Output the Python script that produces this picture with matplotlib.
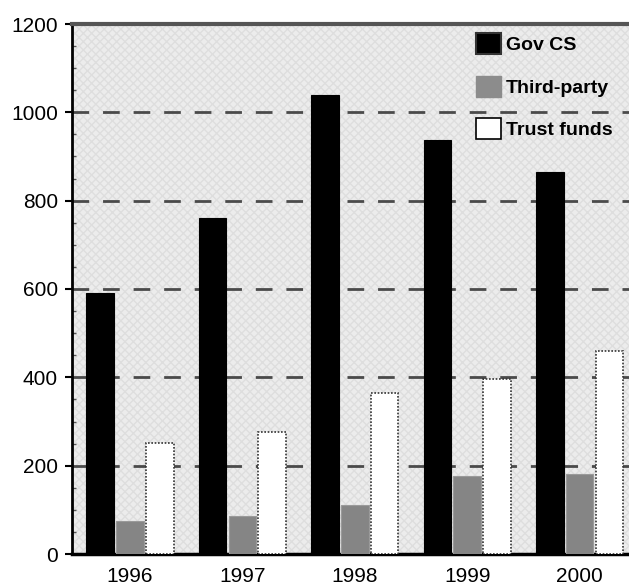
import numpy as np
import matplotlib
matplotlib.use("Agg")
import matplotlib.pyplot as plt
from matplotlib.patches import Patch
from matplotlib.ticker import MultipleLocator

plt.rcParams['font.family'] = ['Liberation Sans Narrow', 'Liberation Sans', 'DejaVu Sans']

years = ['1996', '1997', '1998', '1999', '2000']
gov_cs = [590, 760, 1040, 937, 865]
third_party = [75, 86, 111, 177, 181]
trust_funds = [251, 276, 364, 396, 460]

fig = plt.figure(figsize=(6.29, 5.86), dpi=100)
ax = fig.add_axes([72 / 629, 1 - 554 / 586, 1 - 72 / 629, (554 - 24) / 586])

# textured light background
ax.set_facecolor('#ececec')
ax.add_patch(plt.Rectangle((0, 0), 1, 1, transform=ax.transAxes, facecolor='none',
                           edgecolor='#dedede', hatch='xxxx', lw=0, zorder=0))

x = np.arange(len(years))
w = 0.245
pitch = 0.265
ax.bar(x - pitch, gov_cs, w, color='black', edgecolor='black', lw=0.8, zorder=3, label='Gov CS')
ax.bar(x, third_party, w, color='#858585', edgecolor='#9a9a9a', lw=0.8, zorder=3, label='Third-party')
ax.bar(x + pitch, trust_funds, w, color='white', edgecolor='#333333', lw=1.2,
       linestyle=(0, (1, 1)), zorder=3, label='Trust funds')

for yv in [200, 400, 600, 800, 1000]:
    ax.axhline(yv, color='#4a4a4a', lw=2, dashes=(6, 5), zorder=1)

ax.set_xlim(-0.516, 4.44)
ax.set_ylim(0, 1200)
ax.set_xticks(x)
ax.set_xticklabels(years)
ax.yaxis.set_major_locator(MultipleLocator(200))
ax.yaxis.set_minor_locator(MultipleLocator(50))
ax.tick_params(axis='x', length=0, labelsize=15, pad=9)
ax.tick_params(axis='y', which='major', direction='out', length=5, width=1.5, labelsize=15, pad=5)
ax.tick_params(axis='y', which='minor', direction='in', length=3, width=1, color='#555555')

ax.spines['left'].set_linewidth(2)
ax.spines['bottom'].set_linewidth(2.5)
ax.spines['top'].set_linewidth(3)
ax.spines['top'].set_color('#555555')
ax.spines['right'].set_visible(False)

handles = [Patch(facecolor='black', edgecolor='#333333', lw=1.5),
           Patch(facecolor='#8c8c8c', edgecolor='#8c8c8c'),
           Patch(facecolor='white', edgecolor='black', lw=1.2)]
leg = ax.legend(handles, ['Gov CS', 'Third-party', 'Trust funds'], loc='upper left',
                bbox_to_anchor=((476 - 72) / 557, 1 - (33 - 24) / 530), frameon=False,
                prop={'weight': 'bold', 'size': 14}, handlelength=1.3, handleheight=1.3,
                handletextpad=0.25, labelspacing=1.1, borderpad=0, borderaxespad=0)

fig.savefig('out.png', dpi=100)
